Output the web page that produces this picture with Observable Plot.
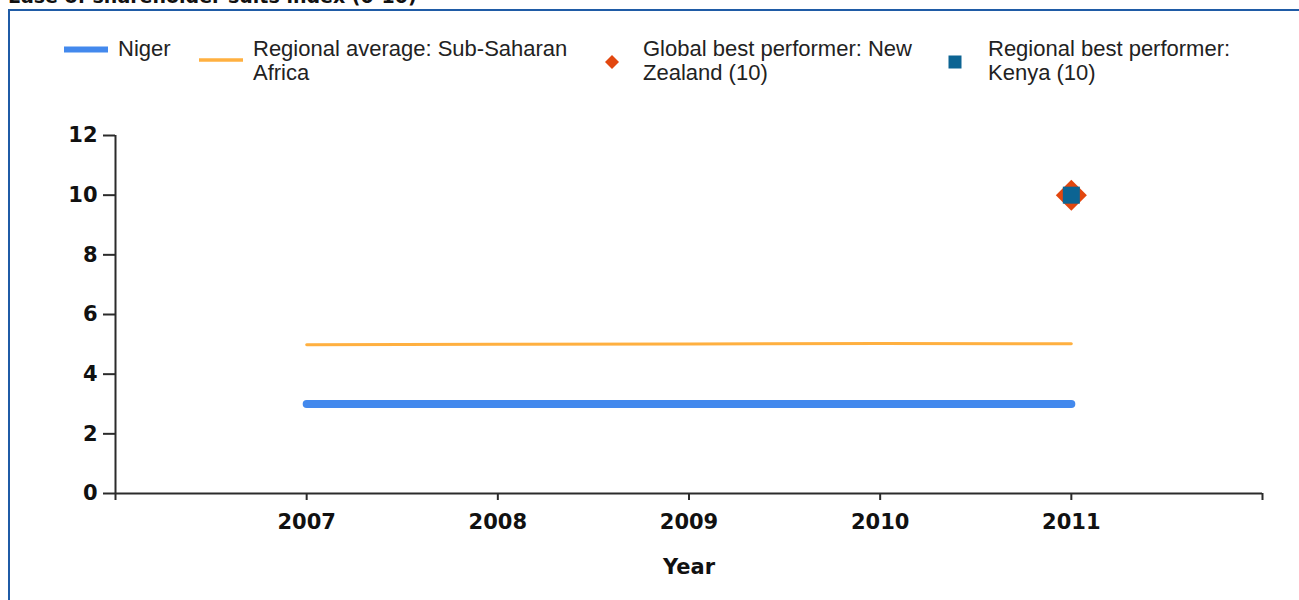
<!DOCTYPE html>
<html>
<head>
<meta charset="utf-8">
<script src="https://cdn.jsdelivr.net/npm/d3@7"></script>
<script src="https://cdn.jsdelivr.net/npm/@observablehq/plot@0.6"></script>
<style>
  html, body { margin: 0; padding: 0; background: #fff; overflow: hidden; }
  #wrap { position: relative; width: 1299px; height: 600px; overflow: hidden; }
  #title { position: absolute; left: 8px; top: -13px; font: bold 19px "DejaVu Sans", sans-serif; line-height: 19px; color: #111; white-space: nowrap; }
  #frame { position: absolute; left: 8px; top: 9px; width: 1400px; height: 700px; border-left: 2px solid #1f5ba6; border-top: 2px solid #1f5ba6; box-sizing: border-box; }
  #chart { position: absolute; left: 0; top: 0; }
  .lg { position: absolute; font: 22px "Liberation Sans", Arial, sans-serif; line-height: 24px; color: #222; white-space: nowrap; }
  .sw { position: absolute; }
</style>
</head>
<body>
<div id="wrap">
  <div id="title">Ease of shareholder suits index (0-10)</div>
  <div id="frame"></div>
  <div id="chart"></div>
  <div id="legend"></div>
</div>
<script>
// ---- data ----
const years = [2007, 2008, 2009, 2010, 2011];
const nigerValues = [3, 3, 3, 3, 3];
const regionalAverageValues = [4.99, 5.0, 5.01, 5.03, 5.02];
const bestYear = [2011];
const globalBestValues = [10];
const regionalBestValues = [10];
const yTicks = [0, 2, 4, 6, 8, 10, 12];
const xTicks = [2006, 2007, 2008, 2009, 2010, 2011, 2012];
const xTickLabels = ["", "2007", "2008", "2009", "2010", "2011", ""];
const seriesNames = ["Niger", "Regional average: Sub-Saharan\nAfrica", "Global best performer: New\nZealand (10)", "Regional best performer:\nKenya (10)"];

const colors = { niger: "#4389ed", avg: "#ffb040", global: "#e2470f", regional: "#0c6493", axis: "#2b2b2b" };

const niger = years.map((y, i) => ({ year: y, value: nigerValues[i] }));
const avg = years.map((y, i) => ({ year: y, value: regionalAverageValues[i] }));
const globalBest = bestYear.map((y, i) => ({ year: y, value: globalBestValues[i] }));
const regionalBest = bestYear.map((y, i) => ({ year: y, value: regionalBestValues[i] }));

const chart = Plot.plot({
  width: 1299,
  height: 600,
  marginLeft: 115,
  marginRight: 37,
  marginTop: 135,
  marginBottom: 107,
  style: { fontFamily: "DejaVu Sans, sans-serif", fontWeight: "bold", fontSize: "21px", color: "#111", background: "transparent" },
  x: { domain: [2006, 2012] },
  y: { domain: [0, 12] },
  marks: [
    Plot.axisY({ ticks: yTicks, tickSize: 12, tickPadding: 6, tickFormat: d => String(d), label: null, stroke: colors.axis, strokeWidth: 2, fontWeight: "bold", fontSize: 21 }),
    Plot.axisX({ ticks: xTicks, tickSize: 7, tickPadding: 14, tickFormat: d => xTickLabels[xTicks.indexOf(d)], label: null, stroke: colors.axis, strokeWidth: 2, fontWeight: "bold", fontSize: 21 }),
    Plot.ruleX([2006], { y1: 0, y2: 12, stroke: colors.axis, strokeWidth: 2 }),
    Plot.ruleY([0], { x1: 2006, x2: 2012, stroke: colors.axis, strokeWidth: 2 }),
    Plot.text(["Year"], { frameAnchor: "bottom", dy: 74, lineAnchor: "middle", fontWeight: "bold", fontSize: 21, fill: "#111" }),
    Plot.line(avg, { x: "year", y: "value", stroke: colors.avg, strokeWidth: 3, strokeLinecap: "round" }),
    Plot.line(niger, { x: "year", y: "value", stroke: colors.niger, strokeWidth: 8, strokeLinecap: "round" }),
    Plot.dot(globalBest, { x: "year", y: "value", symbol: "diamond2", r: 14, fill: colors.global, stroke: "none" }),
    Plot.dot(regionalBest, { x: "year", y: "value", symbol: "square", r: 9.6, fill: colors.regional, stroke: "none" })
  ]
});
document.getElementById("chart").appendChild(chart);

// ---- legend ----
const legend = document.getElementById("legend");
const items = [
  { x: 118, sw: `<svg class="sw" style="left:62px;top:44px" width="48" height="10"><line x1="2" y1="5.5" x2="46" y2="5.5" stroke="${colors.niger}" stroke-width="6"/></svg>` },
  { x: 253, sw: `<svg class="sw" style="left:197px;top:55px" width="48" height="10"><line x1="2" y1="5" x2="46" y2="5" stroke="${colors.avg}" stroke-width="3.5"/></svg>` },
  { x: 643, sw: `<svg class="sw" style="left:602px;top:52px" width="20" height="20"><path d="M10,3 L17,10 L10,17 L3,10 Z" fill="${colors.global}"/></svg>` },
  { x: 988, sw: `<svg class="sw" style="left:945px;top:52px" width="20" height="20"><rect x="3.5" y="3.5" width="13" height="13" fill="${colors.regional}"/></svg>` }
];
items.forEach((it, i) => {
  legend.insertAdjacentHTML("beforeend", it.sw);
  const d = document.createElement("div");
  d.className = "lg";
  d.style.left = it.x + "px";
  d.style.top = "37px";
  d.innerHTML = seriesNames[i].split("\n").join("<br>");
  legend.appendChild(d);
});
</script>
</body>
</html>
